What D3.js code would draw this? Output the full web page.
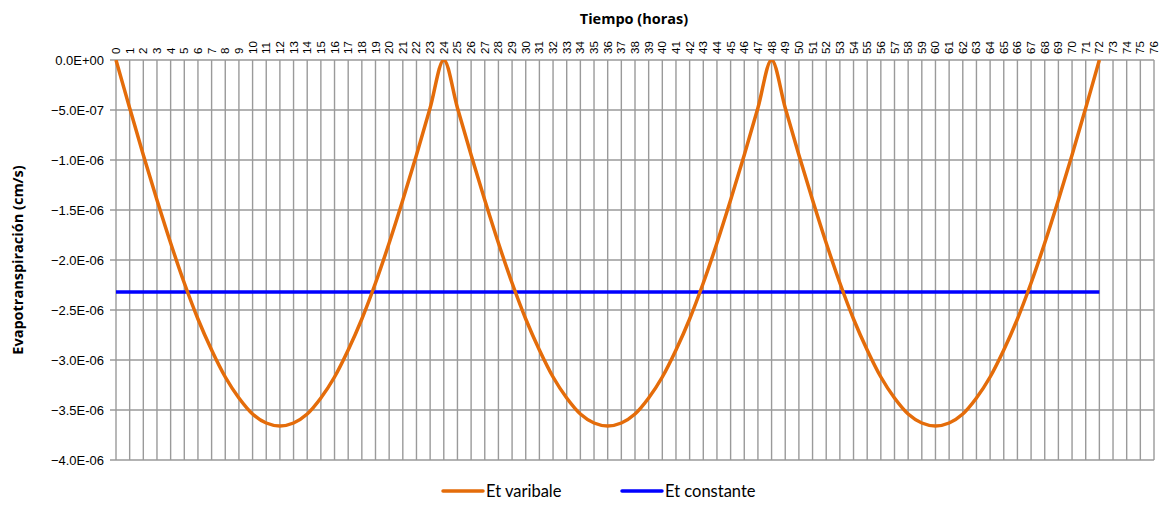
<!DOCTYPE html>
<html>
<head>
<meta charset="utf-8">
<script src="https://cdn.jsdelivr.net/npm/d3@7"></script>
<style>
  body { margin: 0; background: #fff; }
  .tick-x { font-family: "Liberation Sans", Arial, sans-serif; font-size: 11.5px; fill: #000; }
  .tick-y { font-family: "Liberation Sans", Arial, sans-serif; font-size: 13px; fill: #000; }
  .axis-title { font-family: "Open Sans", sans-serif; font-size: 14.5px; font-weight: bold; fill: #000; }
  .legend-text { font-family: Lato, sans-serif; font-size: 16.5px; fill: #000; }
</style>
</head>
<body>
<main></main>
<script>
// hours on the top axis
const hours = d3.range(0, 73);
const xTicks = d3.range(0, 77);
const yTicks = [0, -5e-7, -1e-6, -1.5e-6, -2e-6, -2.5e-6, -3e-6, -3.5e-6, -4e-6];

// variable evapotranspiration (units of 1E-06 cm/s)
const etVariable = [
  0, -0.48, -0.95, -1.40, -1.83, -2.23, -2.59, -2.90, -3.17, -3.38, -3.54, -3.63,
  -3.66, -3.63, -3.54, -3.38, -3.17, -2.90, -2.59, -2.23, -1.83, -1.40, -0.95, -0.48,
  0, -0.48, -0.95, -1.40, -1.83, -2.23, -2.59, -2.90, -3.17, -3.38, -3.54, -3.63,
  -3.66, -3.63, -3.54, -3.38, -3.17, -2.90, -2.59, -2.23, -1.83, -1.40, -0.95, -0.48,
  0, -0.48, -0.95, -1.40, -1.83, -2.23, -2.59, -2.90, -3.17, -3.38, -3.54, -3.63,
  -3.66, -3.63, -3.54, -3.38, -3.17, -2.90, -2.59, -2.23, -1.83, -1.40, -0.95, -0.48,
  0
];
// constant evapotranspiration (1E-06 cm/s)
const etConstant = -2.32;

const width = 1166, height = 505;
const margin = {top: 60, right: 12, bottom: 45, left: 116};

const svg = d3.select("main").append("svg")
  .attr("width", width)
  .attr("height", height);

const x = d3.scaleLinear().domain([0, 76]).range([margin.left, width - margin.right]);
const y = d3.scaleLinear().domain([0, -4e-6]).range([margin.top, height - margin.bottom]);

// 0.0E+00 style labels
const sciFmt = (v) => {
  if (v === 0) return "0.0E+00";
  let s = d3.format(".1e")(v);
  let parts = s.split("e");
  let exp = parseInt(parts[1]);
  let sign = exp < 0 ? "-" : "+";
  return parts[0] + "E" + sign + String(Math.abs(exp)).padStart(2, "0");
};

// grid
svg.append("g").selectAll("line")
  .data(xTicks)
  .join("line")
  .attr("x1", d => x(d)).attr("x2", d => x(d))
  .attr("y1", y(0)).attr("y2", y(-4e-6))
  .attr("stroke", "#9a9a9a")
  .attr("stroke-width", 1.4);

svg.append("g").selectAll("line")
  .data(yTicks)
  .join("line")
  .attr("x1", x(0) - 6).attr("x2", x(76))
  .attr("y1", d => y(d)).attr("y2", d => y(d))
  .attr("stroke", "#9a9a9a")
  .attr("stroke-width", 1.4);

// x tick labels (rotated)
svg.append("g").selectAll("text")
  .data(xTicks)
  .join("text")
  .attr("class", "tick-x")
  .attr("transform", d => `translate(${x(d) + 4},${y(0) - 6}) rotate(-90)`)
  .attr("text-anchor", "start")
  .text(d => d);

// y tick labels
svg.append("g").selectAll("text")
  .data(yTicks)
  .join("text")
  .attr("class", "tick-y")
  .attr("x", x(0) - 12)
  .attr("y", d => y(d) + 4.5)
  .attr("text-anchor", "end")
  .text(d => sciFmt(d));

// titles
svg.append("text")
  .attr("class", "axis-title")
  .attr("x", 634)
  .attr("y", 24)
  .attr("text-anchor", "middle")
  .text("Tiempo (horas)");

svg.append("text")
  .attr("class", "axis-title")
  .attr("transform", `translate(23,${(y(0) + y(-4e-6)) / 2}) rotate(-90)`)
  .attr("text-anchor", "middle")
  .text("Evapotranspiración (cm/s)");

// clip to plot area
svg.append("clipPath").attr("id", "plot-clip")
  .append("rect")
  .attr("x", x(0) - 3).attr("y", y(0))
  .attr("width", x(76) - x(0) + 6).attr("height", y(-4e-6) - y(0));

const line = d3.line()
  .x((d, i) => x(hours[i]))
  .y(d => y(d * 1e-6))
  .curve(d3.curveCatmullRom);

// constant line spans the same hours as the variable series
svg.append("path")
  .datum([hours[0], hours[hours.length - 1]])
  .attr("clip-path", "url(#plot-clip)")
  .attr("d", d3.line()
    .x(d => x(d))
    .y(() => y(etConstant * 1e-6)))
  .attr("fill", "none")
  .attr("stroke", "#0000ff")
  .attr("stroke-width", 3.5);

svg.append("path")
  .datum(etVariable)
  .attr("clip-path", "url(#plot-clip)")
  .attr("d", line)
  .attr("fill", "none")
  .attr("stroke", "#e46c0a")
  .attr("stroke-width", 3.5)
  .attr("stroke-linejoin", "round");

// legend
const legendItems = [
  {name: "Et varibale", color: "#e46c0a", x: 443},
  {name: "Et constante", color: "#0000ff", x: 622}
];
const lg = svg.append("g").selectAll("g")
  .data(legendItems)
  .join("g");
lg.append("line")
  .attr("x1", d => d.x).attr("x2", d => d.x + 40)
  .attr("y1", 491).attr("y2", 491)
  .attr("stroke", d => d.color)
  .attr("stroke-width", 3.5)
  .attr("stroke-linecap", "round");
lg.append("text")
  .attr("class", "legend-text")
  .attr("x", d => d.x + 43)
  .attr("y", 497)
  .text(d => d.name);
</script>
</body>
</html>
